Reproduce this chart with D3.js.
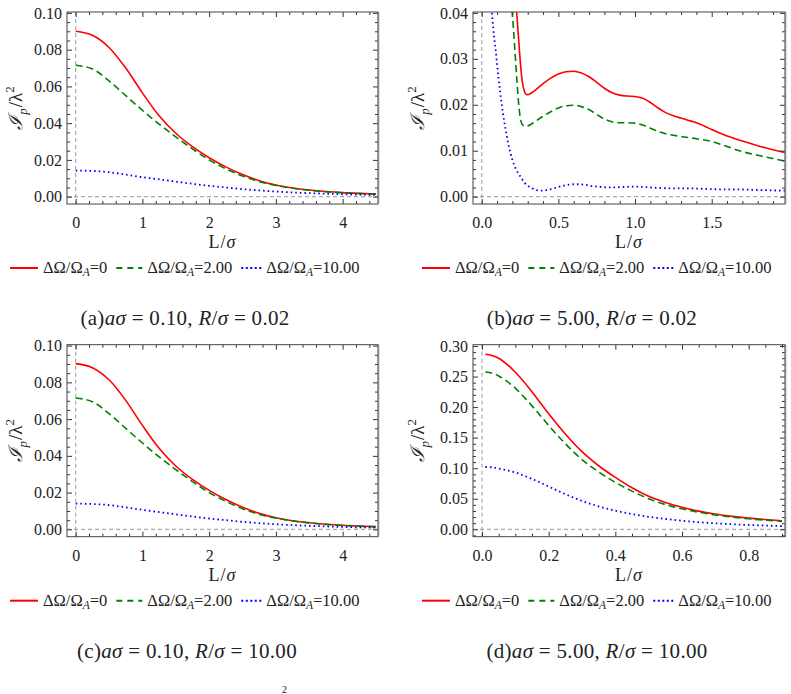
<!DOCTYPE html>
<html>
<head>
<meta charset="UTF-8">
<title>I_p / lambda^2 panels</title>
<script src="https://cdn.jsdelivr.net/npm/d3@7"></script>
<style>
  body { margin: 0; background: #fff; }
  svg text { font-family: "Liberation Serif", "Times New Roman", Times, serif; fill: #222; }
</style>
</head>
<body>
<div id="chart"></div>
<script>
// ---- data ----
var seriesNames = ["0", "2.00", "10.00"];

// (a) a sigma = 0.10, R/sigma = 0.02
var L_a     = [0, 0.25, 0.5, 0.75, 1, 1.25, 1.5, 1.75, 2, 2.25, 2.5, 2.75, 3, 3.25, 3.5, 3.75, 4, 4.25, 4.5];
var red_a   = [0.0900, 0.0878, 0.0812, 0.0700, 0.0565, 0.0440, 0.0345, 0.0272, 0.0212, 0.0162, 0.0120, 0.0087, 0.0063, 0.0047, 0.0036, 0.0028, 0.0022, 0.0018, 0.0015];
var green_a = [0.0715, 0.0695, 0.0630, 0.0550, 0.0470, 0.0395, 0.0325, 0.0260, 0.0200, 0.0152, 0.0112, 0.0082, 0.0061, 0.0046, 0.0035, 0.0027, 0.0021, 0.0017, 0.0014];
var blue_a  = [0.0142, 0.0140, 0.0133, 0.0120, 0.0106, 0.0094, 0.0082, 0.0070, 0.0059, 0.0050, 0.0041, 0.0034, 0.0028, 0.0023, 0.0019, 0.0016, 0.0013, 0.0011, 0.0010];

// (b) a sigma = 5.00, R/sigma = 0.02
var Lr_b  = [0.22, 0.23, 0.24, 0.25, 0.26, 0.27, 0.28, 0.29, 0.30, 0.32, 0.35, 0.40, 0.45, 0.50, 0.55, 0.60, 0.65, 0.70, 0.75, 0.80, 0.85, 0.90, 0.95, 1.00, 1.05, 1.10, 1.15, 1.20, 1.25, 1.30, 1.35, 1.40, 1.45, 1.50, 1.60, 1.70, 1.80, 1.90, 1.98];
var red_b = [0.0430, 0.0392, 0.0345, 0.0300, 0.0263, 0.0240, 0.0228, 0.0223, 0.0222, 0.0225, 0.0232, 0.0246, 0.0258, 0.0267, 0.0272, 0.0273, 0.0269, 0.0261, 0.0249, 0.0236, 0.0226, 0.0221, 0.0219, 0.0218, 0.0214, 0.0205, 0.0193, 0.0183, 0.0176, 0.0171, 0.0166, 0.0161, 0.0154, 0.0146, 0.0132, 0.0121, 0.0111, 0.0102, 0.0096];
var Lg_b    = [0.19, 0.20, 0.21, 0.22, 0.23, 0.24, 0.25, 0.26, 0.27, 0.28, 0.30, 0.32, 0.35, 0.40, 0.45, 0.50, 0.55, 0.60, 0.65, 0.70, 0.75, 0.80, 0.85, 0.90, 0.95, 1.00, 1.05, 1.10, 1.15, 1.20, 1.30, 1.40, 1.50, 1.60, 1.70, 1.80, 1.90, 1.98];
var green_b = [0.0430, 0.0395, 0.0350, 0.0300, 0.0250, 0.0205, 0.0175, 0.0160, 0.0155, 0.0153, 0.0154, 0.0157, 0.0164, 0.0175, 0.0185, 0.0193, 0.0198, 0.0199, 0.0196, 0.0189, 0.0179, 0.0169, 0.0163, 0.0161, 0.0161, 0.0160, 0.0156, 0.0149, 0.0142, 0.0137, 0.0131, 0.0126, 0.0120, 0.0109, 0.0098, 0.0090, 0.0083, 0.0077];
var Lb_b   = [0.05, 0.06, 0.07, 0.08, 0.09, 0.10, 0.12, 0.14, 0.16, 0.18, 0.20, 0.22, 0.25, 0.28, 0.30, 0.33, 0.36, 0.39, 0.42, 0.46, 0.50, 0.55, 0.60, 0.63, 0.67, 0.72, 0.78, 0.85, 0.92, 1.00, 1.06, 1.15, 1.25, 1.35, 1.45, 1.55, 1.65, 1.75, 1.85, 1.98];
var blue_b = [0.0460, 0.0420, 0.0385, 0.0350, 0.0322, 0.0288, 0.0228, 0.0178, 0.0138, 0.0105, 0.0080, 0.0062, 0.0045, 0.0030, 0.0024, 0.0018, 0.0014, 0.0013, 0.0014, 0.0017, 0.0021, 0.0025, 0.0027, 0.0027, 0.0026, 0.0023, 0.0021, 0.0020, 0.0021, 0.0022, 0.0021, 0.0019, 0.0018, 0.0018, 0.0017, 0.0016, 0.0016, 0.0015, 0.0014, 0.0013];

// (c) a sigma = 0.10, R/sigma = 10.00
var L_c     = [0, 0.25, 0.5, 0.75, 1, 1.25, 1.5, 1.75, 2, 2.25, 2.5, 2.75, 3, 3.25, 3.5, 3.75, 4, 4.25, 4.5];
var red_c   = [0.0902, 0.0880, 0.0814, 0.0702, 0.0566, 0.0441, 0.0345, 0.0272, 0.0212, 0.0162, 0.0120, 0.0087, 0.0063, 0.0047, 0.0036, 0.0028, 0.0022, 0.0018, 0.0015];
var green_c = [0.0715, 0.0695, 0.0630, 0.0550, 0.0470, 0.0395, 0.0325, 0.0260, 0.0200, 0.0152, 0.0112, 0.0082, 0.0061, 0.0046, 0.0035, 0.0027, 0.0021, 0.0017, 0.0014];
var blue_c  = [0.0140, 0.0138, 0.0132, 0.0120, 0.0106, 0.0094, 0.0082, 0.0070, 0.0059, 0.0050, 0.0041, 0.0034, 0.0028, 0.0023, 0.0019, 0.0016, 0.0013, 0.0011, 0.0010];

// (d) a sigma = 5.00, R/sigma = 10.00
var L_d     = [0.01, 0.03, 0.05, 0.075, 0.10, 0.125, 0.15, 0.175, 0.20, 0.25, 0.30, 0.35, 0.40, 0.45, 0.50, 0.55, 0.60, 0.65, 0.70, 0.75, 0.80, 0.85, 0.90];
var red_d   = [0.2865, 0.2845, 0.2800, 0.2700, 0.2570, 0.2420, 0.2250, 0.2070, 0.1890, 0.1560, 0.1270, 0.1040, 0.0850, 0.0680, 0.0540, 0.0440, 0.0360, 0.0298, 0.0250, 0.0212, 0.0183, 0.0160, 0.0140];
var green_d = [0.2575, 0.2555, 0.2510, 0.2420, 0.2310, 0.2170, 0.2020, 0.1860, 0.1700, 0.1400, 0.1140, 0.0940, 0.0770, 0.0625, 0.0500, 0.0405, 0.0335, 0.0280, 0.0235, 0.0200, 0.0172, 0.0150, 0.0130];
var blue_d  = [0.1020, 0.1015, 0.0995, 0.0965, 0.0930, 0.0880, 0.0825, 0.0765, 0.0700, 0.0575, 0.0465, 0.0375, 0.0305, 0.0250, 0.0205, 0.0170, 0.0140, 0.0117, 0.0098, 0.0083, 0.0071, 0.0061, 0.0053];

// tick labels
var xTicks_a = [0, 1, 2, 3, 4];
var yTicks_a = [0, 0.02, 0.04, 0.06, 0.08, 0.10];
var xTicks_b = [0, 0.5, 1.0, 1.5];
var yTicks_b = [0, 0.01, 0.02, 0.03, 0.04];
var yTicks_d = [0, 0.05, 0.10, 0.15, 0.20, 0.25, 0.30];
var xTicks_d = [0, 0.2, 0.4, 0.6, 0.8];

var captions = [
  ["(a)", "0.10", "0.02"], ["(b)", "5.00", "0.02"],
  ["(c)", "0.10", "10.00"], ["(d)", "5.00", "10.00"]
];

// ---- layout ----
var W = 791, H = 694;
var FONT = "'Liberation Serif', 'Times New Roman', Times, serif";
var rowTop = [12, 344.7];
var styles = [
  { color: "#ff0000", dash: null,    w: 1.6 },
  { color: "#008000", dash: "7,4",   w: 1.6 },
  { color: "#0000ff", dash: "1.6,3", w: 1.8 }
];

var panels = [
  { left: 67,  right: 378, row: 0, xDom: [-0.13, 4.53],   yDom: [-0.004, 0.1005], xT: xTicks_a, xMin: 0.2,  yT: yTicks_a, yMin: 0.005, xf: d3.format("d"),   yf: d3.format(".2f"),
    series: [[L_a, red_a], [L_a, green_a], [L_a, blue_a]], legX: 10,  capX: 185, yLab: 51 },
  { left: 473, right: 785, row: 0, xDom: [-0.057, 1.978], yDom: [-0.0016, 0.0402], xT: xTicks_b, xMin: 0.1,  yT: yTicks_b, yMin: 0.002, xf: d3.format(".1f"), yf: d3.format(".2f"),
    series: [[Lr_b, red_b], [Lg_b, green_b], [Lb_b, blue_b]], legX: 422, capX: 592, yLab: 55 },
  { left: 67,  right: 378, row: 1, xDom: [-0.13, 4.53],   yDom: [-0.004, 0.1005], xT: xTicks_a, xMin: 0.2,  yT: yTicks_a, yMin: 0.005, xf: d3.format("d"),   yf: d3.format(".2f"),
    series: [[L_c, red_c], [L_c, green_c], [L_c, blue_c]], legX: 10,  capX: 187, yLab: 51 },
  { left: 473, right: 785, row: 1, xDom: [-0.027, 0.909], yDom: [-0.0121, 0.3021], xT: xTicks_d, xMin: 0.05, yT: yTicks_d, yMin: 0.01,  xf: d3.format(".1f"), yf: d3.format(".2f"),
    series: [[L_d, red_d], [L_d, green_d], [L_d, blue_d]], legX: 422, capX: 597, yLab: 55 }
];

var svg = d3.select("#chart").append("svg")
  .attr("width", W).attr("height", H);
svg.append("rect").attr("width", W).attr("height", H).attr("fill", "#fff");

function minorTicks(dom, step, majors) {
  var out = [];
  var start = Math.ceil(dom[0] / step - 1e-9), end = Math.floor(dom[1] / step + 1e-9);
  for (var k = start; k <= end; k++) {
    var v = +(k * step).toFixed(6);
    if (!majors.some(function(m) { return Math.abs(m - v) < 1e-9; })) out.push(v);
  }
  return out;
}

panels.forEach(function(p, i) {
  var top = rowTop[p.row], bottom = top + 192;
  var x = d3.scaleLinear().domain(p.xDom).range([p.left, p.right]);
  var y = d3.scaleLinear().domain(p.yDom).range([bottom, top]);
  var g = svg.append("g");

  // reference lines at 0
  g.append("line").attr("x1", x(0)).attr("x2", x(0)).attr("y1", top).attr("y2", bottom)
    .attr("stroke", "#aaa").attr("stroke-width", 1.2).attr("stroke-dasharray", "4,3");
  g.append("line").attr("x1", p.left).attr("x2", p.right).attr("y1", y(0)).attr("y2", y(0))
    .attr("stroke", "#aaa").attr("stroke-width", 1.2).attr("stroke-dasharray", "4,3");

  // curves
  var clipId = "clip" + i;
  g.append("clipPath").attr("id", clipId).append("rect")
    .attr("x", p.left).attr("y", top).attr("width", p.right - p.left).attr("height", bottom - top);
  var line = d3.line().x(function(d) { return x(d[0]); }).y(function(d) { return y(d[1]); })
    .curve(d3.curveMonotoneX);
  p.series.forEach(function(s, j) {
    var pts = s[0].map(function(v, k) { return [v, s[1][k]]; });
    g.append("path").datum(pts)
      .attr("clip-path", "url(#" + clipId + ")")
      .attr("d", line).attr("fill", "none")
      .attr("stroke", styles[j].color).attr("stroke-width", styles[j].w)
      .attr("stroke-dasharray", styles[j].dash);
  });

  // axes: inward ticks on all four sides
  var xMinor = minorTicks(p.xDom, p.xMin, p.xT), yMinor = minorTicks(p.yDom, p.yMin, p.yT);
  function addAxis(axis, tr, labels) {
    var a = g.append("g").attr("transform", tr).call(axis);
    a.attr("font-family", null).attr("font-size", null);
    a.select(".domain").remove();
    a.selectAll("line").attr("stroke", "#333");
    a.selectAll("text").style("font-size", "16px").style("font-family", FONT).attr("fill", "#222");
    if (!labels) a.selectAll("text").remove();
    return a;
  }
  addAxis(d3.axisBottom(x).tickValues(p.xT).tickFormat(p.xf).tickSizeInner(-5).tickSizeOuter(0).tickPadding(13), "translate(0," + bottom + ")", true);
  addAxis(d3.axisBottom(x).tickValues(xMinor).tickSizeInner(-3).tickSizeOuter(0), "translate(0," + bottom + ")", false);
  addAxis(d3.axisTop(x).tickValues(p.xT).tickSizeInner(-5).tickSizeOuter(0), "translate(0," + top + ")", false);
  addAxis(d3.axisTop(x).tickValues(xMinor).tickSizeInner(-3).tickSizeOuter(0), "translate(0," + top + ")", false);
  addAxis(d3.axisLeft(y).tickValues(p.yT).tickFormat(p.yf).tickSizeInner(-5).tickSizeOuter(0).tickPadding(5), "translate(" + p.left + ",0)", true);
  addAxis(d3.axisLeft(y).tickValues(yMinor).tickSizeInner(-3).tickSizeOuter(0), "translate(" + p.left + ",0)", false);
  addAxis(d3.axisRight(y).tickValues(p.yT).tickSizeInner(-5).tickSizeOuter(0), "translate(" + p.right + ",0)", false);
  addAxis(d3.axisRight(y).tickValues(yMinor).tickSizeInner(-3).tickSizeOuter(0), "translate(" + p.right + ",0)", false);

  // frame
  g.append("rect").attr("x", p.left).attr("y", top).attr("width", p.right - p.left).attr("height", bottom - top)
    .attr("fill", "none").attr("stroke", "#444").attr("stroke-width", 1);
  g.append("line").attr("x1", p.right + 0.5).attr("x2", p.right + 0.5).attr("y1", top).attr("y2", bottom)
    .attr("stroke", "#888").attr("stroke-width", 1.5);

  // axis titles
  var xt = g.append("text").attr("x", (p.left + p.right) / 2).attr("y", bottom + 44)
    .attr("text-anchor", "middle").style("font-size", "18px").style("letter-spacing", "1px");
  xt.append("tspan").text("L/");
  xt.append("tspan").attr("font-style", "italic").text("σ");

  var yt = g.append("text")
    .attr("transform", "translate(" + (p.left - p.yLab + 6) + "," + ((top + bottom) / 2) + ") rotate(-90)")
    .attr("text-anchor", "middle").style("font-size", "19px");
  yt.append("tspan").attr("font-style", "italic").style("font-family", "'DejaVu Serif', serif").text("ℐ");
  yt.append("tspan").attr("font-style", "italic").attr("dy", 5).attr("dx", 1).style("font-size", "13px").text("p");
  yt.append("tspan").attr("dy", -5).attr("dx", 1).text("/λ");
  yt.append("tspan").attr("dy", -8).style("font-size", "13px").text("2");

  // legend
  var ly = bottom + 64;
  var lx = p.legX;
  var sw = [28, 26, 20];
  seriesNames.forEach(function(name, j) {
    g.append("line").attr("x1", lx).attr("x2", lx + sw[j]).attr("y1", ly).attr("y2", ly)
      .attr("stroke", styles[j].color).attr("stroke-width", 2)
      .attr("stroke-dasharray", j === 1 ? "6,5" : (j === 2 ? "2,2.5" : null));
    var t = g.append("text").attr("x", lx + sw[j] + 5).attr("y", ly + 5).style("font-size", "16.5px");
    t.append("tspan").text("ΔΩ/Ω");
    t.append("tspan").attr("font-style", "italic").attr("dy", 3).style("font-size", "11.5px").text("A");
    t.append("tspan").attr("dy", -3).text("=" + name);
    lx = lx + sw[j] + 5 + t.node().getComputedTextLength() + 9;
  });

  // caption
  var c = captions[i];
  var ct = g.append("text").attr("x", p.capX).attr("y", bottom + 121)
    .attr("text-anchor", "middle").style("font-size", "21px").style("letter-spacing", "0.3px");
  ct.append("tspan").text(c[0]);
  ct.append("tspan").attr("font-style", "italic").text("aσ");
  ct.append("tspan").text(" = " + c[1] + ", ");
  ct.append("tspan").attr("font-style", "italic").text("R");
  ct.append("tspan").text("/");
  ct.append("tspan").attr("font-style", "italic").text("σ");
  ct.append("tspan").text(" = " + c[2]);
});

// cut-off fragments at the bottom edge
svg.append("text").attr("x", 282).attr("y", 693).style("font-size", "10px").text("2");
</script>
</body>
</html>
